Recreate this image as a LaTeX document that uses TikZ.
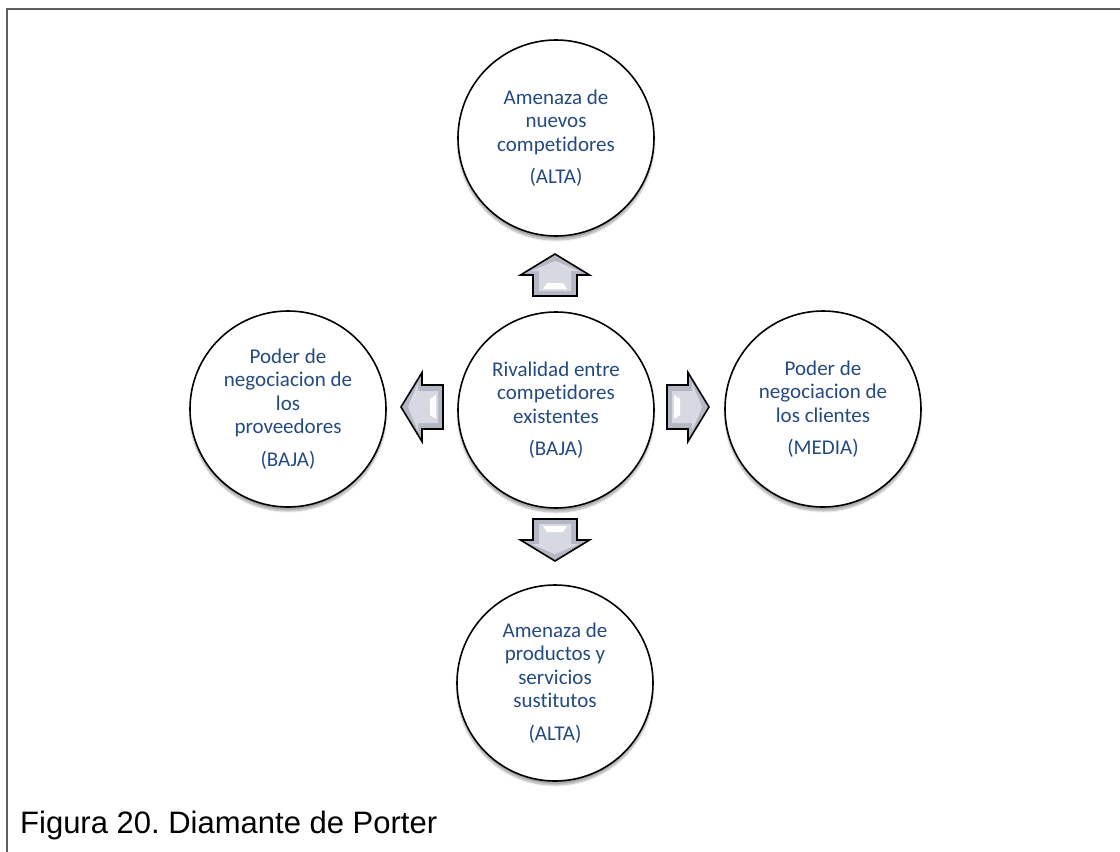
\documentclass[tikz,border=0pt]{standalone}
\usepackage{fontspec}
\setmainfont{Carlito}[Ligatures=NoCommon]
\newfontfamily\capfont{Liberation Sans}
\usetikzlibrary{shadows.blur}
\definecolor{txtblue}{RGB}{36,74,128}
\definecolor{arrdark}{RGB}{180,184,197}
\definecolor{arrlight}{RGB}{214,217,225}
\definecolor{framegray}{RGB}{95,95,95}
\tikzset{
  force/.style={circle, draw=black, line width=1.6pt, fill=white, minimum size=196pt,
    inner sep=0pt, align=center, text=txtblue, font=\fontsize{21}{23.5}\selectfont,
    blur shadow={shadow xshift=0pt, shadow yshift=-4pt, shadow blur steps=8, shadow opacity=35}},
  arrowout/.style={draw=black, line width=1.6pt, line join=miter, fill=arrdark},
  arrowin/.style={fill=arrlight},
}
\newcommand\blockarrow[2]{%
  \begin{scope}[shift={#1}, rotate=#2]
    \draw[arrowout] (-21,-22) -- (0,-22) -- (0,-34.5) -- (21,0) -- (0,34.5) -- (0,22) -- (-21,22) -- cycle;
    \fill[arrowin] (-16,-16) -- (4,-16) -- (4,-24) -- (14,0) -- (4,24) -- (4,16) -- (-16,16) -- cycle;
    \fill[white] (-14,-12) -- (-8,-8) -- (-8,8) -- (-14,12) -- cycle;
    \fill[white] (8,10) -- (13,3) -- (4,16) -- cycle;
  \end{scope}}
\begin{document}
\frenchspacing
\begin{tikzpicture}[x=1pt, y=-1pt]
  \useasboundingbox (0,0) rectangle (1120,852);
  \draw[framegray, line width=1.6pt] (7,852) -- (7,9) -- (1120,9);

  \node[force] (top) at (556,138) {Amenaza de\\nuevos\\competidores\\[9pt](ALTA)};
  \node[force] (mid) at (556,410) {Rivalidad entre\\competidores\\existentes\\[9pt](BAJA)};
  \node[force] (left) at (288,409) {Poder de\\negociacion de\\los\\proveedores\\[9pt](BAJA)};
  \node[force] (right) at (823,409) {Poder de\\negociacion de\\los clientes\\[9pt](MEDIA)};
  \node[force] (bot) at (555,683) {Amenaza de\\productos y\\servicios\\sustitutos\\[9pt](ALTA)};

  \blockarrow{(555,275)}{90}
  \blockarrow{(422,407)}{180}
  \blockarrow{(688,407)}{0}
  \blockarrow{(555,540)}{-90}

  \node[anchor=base west, inner sep=0pt, font=\capfont\fontsize{31}{35}\selectfont] (cap) at (20,833) {Figura 20. Diamante de Porter};
\end{tikzpicture}
\end{document}
